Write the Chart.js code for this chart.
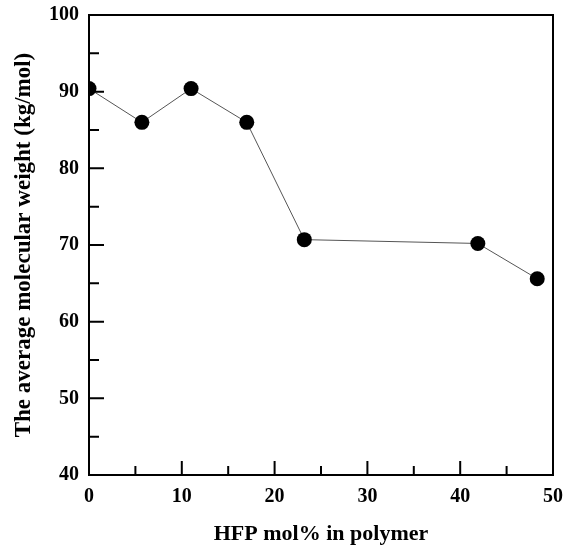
<!DOCTYPE html>
<html>
<head>
<meta charset="utf-8">
<script src="https://cdn.jsdelivr.net/npm/chart.js@4/dist/chart.umd.min.js"></script>
<style>
    html, body { margin: 0; padding: 0; background: #fff; }
    #wrap { width: 571px; height: 548px; }
</style>
</head>
<body>
<div id="wrap"><canvas id="mwChart" width="571" height="548"></canvas></div>
<script>
// values
const hfpMol = [0, 5.7, 11, 17, 23.2, 41.9, 48.3];
const avgMw = [90.4, 86.0, 90.4, 86.0, 70.7, 70.2, 65.6];
const xTicks = [0, 10, 20, 30, 40, 50];
const yTicks = [40, 50, 60, 70, 80, 90, 100];

const serif = "'Liberation Serif', 'Times New Roman', serif";

// frame round the plot plus inward major/minor ticks
const framePlugin = {
    id: 'frame',
    afterDatasetsDraw(chart) {
        const { ctx, chartArea: a, scales } = chart;
        ctx.save();
        ctx.strokeStyle = '#000';
        ctx.lineWidth = 2;
        ctx.strokeRect(a.left, a.top, a.right - a.left, a.bottom - a.top);

        ctx.beginPath();
        xTicks.forEach((v, i) => {
            const px = scales.x.getPixelForValue(v);
            ctx.moveTo(px, a.bottom);
            ctx.lineTo(px, a.bottom - 14);
            if (i < xTicks.length - 1) {
                const mx = scales.x.getPixelForValue((v + xTicks[i + 1]) / 2);
                ctx.moveTo(mx, a.bottom);
                ctx.lineTo(mx, a.bottom - 9);
            }
        });
        yTicks.forEach((v, i) => {
            const py = scales.y.getPixelForValue(v);
            ctx.moveTo(a.left, py);
            ctx.lineTo(a.left + 15, py);
            if (i < yTicks.length - 1) {
                const my = scales.y.getPixelForValue((v + yTicks[i + 1]) / 2);
                ctx.moveTo(a.left, my);
                ctx.lineTo(a.left + 10, my);
            }
        });
        ctx.stroke();
        ctx.restore();
    },
};

const ctx = document.getElementById('mwChart').getContext('2d');
new Chart(ctx, {
    type: 'scatter',
    data: {
        datasets: [
            {
                label: 'Mw',
                data: hfpMol.map((x, i) => ({ x: x, y: avgMw[i] })),
                showLine: true,
                borderColor: '#555',
                borderWidth: 1,
                pointRadius: 7.5,
                pointHoverRadius: 7.5,
                pointBackgroundColor: '#000',
                pointBorderColor: '#000',
                pointBorderWidth: 0,
            },
        ],
    },
    options: {
        responsive: false,
        animation: false,
        events: [],
        layout: {
            padding: { left: 0, right: 18, top: 15, bottom: 0 },
        },
        plugins: {
            legend: { display: false },
            tooltip: { enabled: false },
        },
        scales: {
            x: {
                type: 'linear',
                min: 0,
                max: 50,
                afterFit(scale) {
                    scale.height = 73;
                    scale.paddingLeft = 0;
                    scale.paddingRight = 0;
                },
                afterBuildTicks(scale) {
                    scale.ticks = xTicks.map((v) => ({ value: v }));
                },
                grid: { display: false, drawTicks: false },
                border: { display: false },
                ticks: {
                    padding: 10,
                    color: '#000',
                    font: { family: serif, size: 20, weight: 'bold' },
                },
                title: {
                    display: true,
                    text: 'HFP mol% in polymer',
                    color: '#000',
                    padding: { top: 0, bottom: 0 },
                    font: { family: serif, size: 22, weight: 'bold' },
                },
            },
            y: {
                type: 'linear',
                min: 40,
                max: 100,
                afterFit(scale) {
                    scale.width = 89;
                    scale.paddingTop = 0;
                    scale.paddingBottom = 0;
                },
                afterBuildTicks(scale) {
                    scale.ticks = yTicks.map((v) => ({ value: v }));
                },
                grid: { display: false, drawTicks: false },
                border: { display: false },
                ticks: {
                    padding: 10,
                    color: '#000',
                    font: { family: serif, size: 20, weight: 'bold' },
                },
                title: {
                    display: true,
                    text: 'The average molecular weight (kg/mol)',
                    color: '#000',
                    padding: { top: 10, bottom: 0 },
                    font: { family: serif, size: 23, weight: 'bold' },
                },
            },
        },
    },
    plugins: [framePlugin],
});
</script>
</body>
</html>
